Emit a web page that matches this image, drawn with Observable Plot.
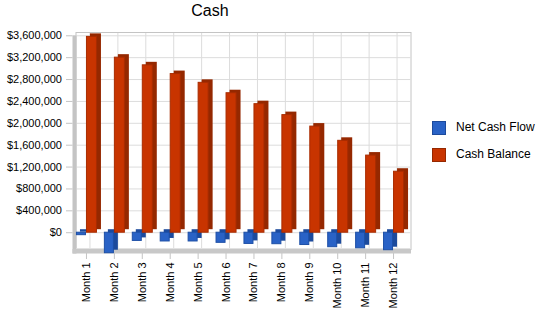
<!DOCTYPE html>
<html>
<head>
<meta charset="utf-8">
<script src="https://cdn.jsdelivr.net/npm/d3@7"></script>
<script src="https://cdn.jsdelivr.net/npm/@observablehq/plot@0.6"></script>
<style>
  html, body { margin: 0; padding: 0; background: #fff; }
  #wrap { position: relative; width: 550px; height: 318px; font-family: "Liberation Sans", Arial, sans-serif; color: #000; }
  #wrap svg { position: absolute; left: 0; top: 0; }
  #title { position: absolute; left: 0; top: 2px; width: 420px; text-align: center; font-size: 16px; }
  .leg { position: absolute; left: 432px; font-size: 12px; white-space: nowrap; }
  .leg span.sw { position: absolute; left: 0; top: 0; width: 12px; height: 12px; border: 1px solid; }
  .leg span.lab { position: absolute; left: 24px; top: -1px; }
</style>
</head>
<body>
<div id="wrap">
  <div id="title">Cash</div>
</div>
<script>
const months = ["Month 1","Month 2","Month 3","Month 4","Month 5","Month 6","Month 7","Month 8","Month 9","Month 10","Month 11","Month 12"];
const netCashFlow = [-45000, -375000, -150000, -160000, -160000, -185000, -205000, -210000, -225000, -265000, -285000, -320000];
const cashBalance = [3580000, 3200000, 3060000, 2900000, 2740000, 2550000, 2350000, 2150000, 1940000, 1680000, 1410000, 1115000];
const yTicks = [0, 400000, 800000, 1200000, 1600000, 2000000, 2400000, 2800000, 3200000, 3600000];
const seriesNames = ["Net Cash Flow", "Cash Balance"];
const seriesColors = ["#2962c6", "#c83400"];
const seriesSide = ["#1c4a9c", "#952800"];
const seriesEdge = ["#1d4fa6", "#a82c00"];

const net = months.map((m, i) => ({month: m, value: netCashFlow[i]}));
const bal = months.map((m, i) => ({month: m, value: cashBalance[i]}));

const bw = (407 - 72) / months.length; // band width
const half = bw / 2;

const chart = Plot.plot({
  width: 550,
  height: 318,
  marginLeft: 72,
  marginRight: 143,
  marginTop: 32,
  marginBottom: 65,
  style: {fontFamily: "Liberation Sans, Arial, sans-serif", fontSize: "11px", color: "#000", background: "transparent"},
  x: {domain: months, padding: 0, round: false, label: null, tickRotate: -90, tickSize: 6, tickPadding: 3},
  y: {domain: [-380000, 3660000], ticks: yTicks, tickFormat: d3.format("$,"), label: null, tickSize: 6, tickPadding: 4.5},
  marks: [
    // back wall
    Plot.frame({stroke: "#c4c4c4", dx: 3.5, insetBottom: 4}),
    // horizontal gridlines
    Plot.ruleY(yTicks, {stroke: "#dcdcdc", dx: 3.5}),
    Plot.ruleY(yTicks, {stroke: "#dcdcdc", insetRight: 331}),
    // vertical gridlines
    Plot.ruleX(months, {stroke: "#dcdcdc", dx: 3.5, insetTop: 1, insetBottom: 5}),
    // left wall
    Plot.frame({fill: "#c4c4c4", stroke: null, insetRight: 331, insetTop: 3}),
    // floor
    Plot.frame({fill: "#c8c8c8", stroke: null, insetTop: 216.5, insetRight: -3.5}),
    Plot.frame({fill: "#e2e2e2", stroke: null, insetTop: 215.5, insetBottom: 4.5, insetRight: -3.5, insetLeft: 4}),
    // Net cash flow bars (3D side + front)
    Plot.barY(net, {x: "month", y: "value", fill: seriesSide[0], dx: 4, dy: -3, insetLeft: half - 10, insetRight: half}),
    Plot.barY(net, {x: "month", y: "value", fill: seriesColors[0], stroke: seriesEdge[0], strokeWidth: 1, insetLeft: half - 10 + 0.5, insetRight: half + 0.5}),
    // Cash balance bars
    Plot.barY(bal, {x: "month", y: "value", fill: seriesSide[1], dx: 4, dy: -3, insetLeft: half, insetRight: half - 11}),
    Plot.barY(bal, {x: "month", y: "value", fill: seriesColors[1], stroke: seriesEdge[1], strokeWidth: 1, insetLeft: half + 0.5, insetRight: half - 11 + 0.5})
  ]
});

// gray tick marks
chart.querySelectorAll('[aria-label="x-axis tick"], [aria-label="y-axis tick"]').forEach(g => {
  g.setAttribute("stroke", "#c4c4c4");
  g.querySelectorAll("path, line").forEach(p => p.setAttribute("stroke", "#c4c4c4"));
});
chart.querySelectorAll('.tick line').forEach(l => l.setAttribute("stroke", "#c4c4c4"));
chart.querySelectorAll('path.domain').forEach(l => l.remove());

const wrap = document.getElementById("wrap");
wrap.appendChild(chart);

const legTops = [121, 148];
seriesNames.forEach((name, i) => {
  const d = document.createElement("div");
  d.className = "leg";
  d.style.top = legTops[i] + "px";
  const sw = document.createElement("span");
  sw.className = "sw";
  sw.style.background = seriesColors[i];
  sw.style.borderColor = seriesSide[i];
  const lab = document.createElement("span");
  lab.className = "lab";
  lab.textContent = name;
  d.appendChild(sw);
  d.appendChild(lab);
  wrap.appendChild(d);
});
</script>
</body>
</html>
